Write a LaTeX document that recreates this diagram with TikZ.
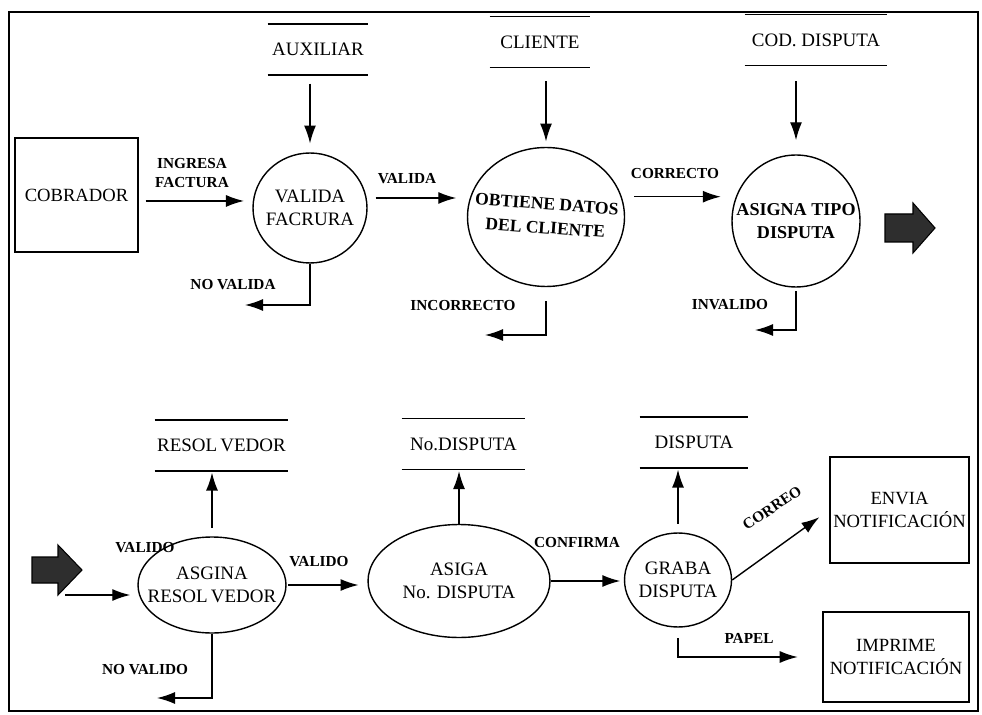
\documentclass[tikz,border=0pt]{standalone}
\usepackage{fontspec}
\setmainfont{Liberation Serif}
\usetikzlibrary{arrows.meta,positioning,shapes.geometric}

\tikzset{
  proceso/.style={draw, ellipse, line width=0.8pt, inner sep=-0.5cm, align=center,
    font=\fontsize{10.8}{13}\selectfont},
  entidad/.style={draw, rectangle, line width=0.8pt, inner sep=0pt, align=center,
    font=\fontsize{10.6}{13}\selectfont},
  almacen/.style={minimum width=#1, minimum height=1cm, inner sep=0pt,
    font=\fontsize{10.8}{13}\selectfont,
    append after command={(\tikzlastnode.north west) edge[line width=0.8pt] (\tikzlastnode.north east)
      (\tikzlastnode.south west) edge[line width=0.8pt] (\tikzlastnode.south east)}},
  almacen/.default=2cm,
  flujo/.style={-{Latex[length=3.6mm,width=2.4mm]}, line width=0.8pt},
  etiqueta/.style={inner sep=0pt, align=center, font=\fontsize{8.7}{11}\selectfont\bfseries},
  grande/.style={fill=black!82, draw=black, line width=0.6pt},
}

\begin{document}
\begin{tikzpicture}[x=0.02cm, y=-0.02cm]
  \useasboundingbox (0,0) rectangle (982,715);
  \draw[line width=1.2pt] (9,12) rectangle (978,711); % marco

  % fila de arriba
  \node[entidad, minimum width=2.46cm, minimum height=2.28cm] (cob) at (76.5,195) {COBRADOR};
  \node[proceso, minimum width=2.28cm, minimum height=2.2cm] (vf) at (310,208) {VALIDA\\FACRURA};
  \node[proceso, minimum width=3.14cm, minimum height=2.78cm] (odc) at (546,217)
    {\bfseries\fontsize{10}{13.5}\selectfont\rotatebox{-4}{\begin{tabular}{@{}c@{}}OBTIENE DATOS\\DEL CLIENTE\end{tabular}}};
  \node[proceso, minimum width=2.56cm, minimum height=2.64cm, font=\fontsize{10.3}{13}\selectfont\bfseries] (atd) at (796,221) {ASIGNA TIPO\\DISPUTA};

  \node[almacen] (aux) at (318,49.5) {AUXILIAR};
  \node[almacen] (cli) at (540,42) {CLIENTE};
  \node[almacen=2.84cm] (cod) at (816,40) {COD. DISPUTA};

  \draw[flujo, shorten <=5pt, shorten >=5pt] (vf |- aux.south) -- (vf.north);
  \draw[flujo, shorten <=8pt, shorten >=3pt] (odc |- cli.south) -- (odc.north);
  \draw[flujo, shorten <=9pt, shorten >=8pt] (atd |- cod.south) -- (atd.north);

  \draw[flujo, shorten <=4pt, shorten >=5pt] (vf.173 -| cob.east) -- (vf.173);
  \draw[flujo, shorten <=5pt, shorten >=6pt] (vf.10) -- (vf.10 -| odc.west);
  \draw[flujo, shorten <=7pt, shorten >=6pt] (odc.15) -- (odc.15 -| atd.west);

  \coordinate (nvf) at (245,305);
  \coordinate (inc) at (485,335);
  \coordinate (inv) at (755,330);
  \draw[flujo] (vf.south) |- (nvf);
  \draw[flujo, shorten <=8pt] (odc.south) |- (inc);
  \draw[flujo, shorten <=2pt] (atd.south) |- (inv);

  \node[etiqueta] (lif) at (192,173) {INGRESA\\FACTURA};
  \node[etiqueta] (lva) at (407,179) {VALIDA};
  \node[etiqueta] (lco) at (675,174) {CORRECTO};
  \node[etiqueta] (lnv) at (233,285) {NO VALIDA};
  \node[etiqueta] (lin) at (463,306) {INCORRECTO};
  \node[etiqueta] (liv) at (730,305) {INVALIDO};

  \fill[grande] (885,214) -- (913,214) -- (913,203) -- (935,228) -- (913,253) -- (913,242) -- (885,242) -- cycle;

  % fila de abajo
  \fill[grande] (32,557) -- (58,557) -- (58,545) -- (82,570) -- (58,595) -- (58,583) -- (32,583) -- cycle;
  \coordinate (ent) at (65,595);

  \node[etiqueta] (lv1) at (145,548) {VALIDO};
  \node[proceso, minimum width=2.96cm, minimum height=1.92cm] (ares) at (212,585) {ASGINA\\RESOL\,VEDOR};
  \node[proceso, minimum width=3.64cm, minimum height=2.26cm] (asd) at (459,581) {ASIGA\\No. DISPUTA};
  \node[proceso, minimum width=2.14cm, minimum height=1.88cm] (gd) at (678,580) {GRABA\\DISPUTA};
  \node[entidad, minimum width=2.78cm, minimum height=2.12cm] (env) at (899.5,510) {ENVIA\\NOTIFICACIÓN};
  \node[entidad, minimum width=2.92cm, minimum height=1.8cm] (imp) at (896,657) {IMPRIME\\NOTIFICACIÓN};

  \node[almacen=2.66cm] (res) at (221.5,445.5) {RESOL\,VEDOR};
  \node[almacen=2.46cm] (nod) at (463.5,444) {No.DISPUTA};
  \node[almacen=2.16cm] (dis) at (694,442.5) {DISPUTA};

  \draw[flujo, shorten <=5pt, shorten >=1pt] (ares.north) -- (ares |- res.south);
  \draw[flujo, shorten >=1pt] (asd.north) -- (asd |- nod.south);
  \draw[flujo, shorten <=5pt, shorten >=1pt] (gd.north) -- (gd |- dis.south);

  \draw[flujo, shorten >=4pt] (ent) -- (ent -| ares.west);
  \draw[flujo, shorten <=1pt, shorten >=5pt] (ares.east) -- (ares.east -| asd.west);
  \draw[flujo, shorten >=2pt] (asd.east) -- (asd.east -| gd.west);
  \draw[flujo, shorten >=7pt] (gd.east) -- (env.west);
  \draw[flujo, shorten <=6pt, shorten >=14pt] (gd.south) |- (imp.west);

  \coordinate (nvo) at (157,698);
  \draw[flujo] (ares.south) |- (nvo);

  \node[etiqueta] (lv2) at (319,562) {VALIDO};
  \node[etiqueta] (lnvo) at (145,670) {NO VALIDO};
  \node[etiqueta] (lcf) at (577,543) {CONFIRMA};
  \node[etiqueta, rotate=34] (lcr) at (772,508) {CORREO};
  \node[etiqueta] (lpa) at (749,638) {PAPEL};
\end{tikzpicture}
\end{document}
